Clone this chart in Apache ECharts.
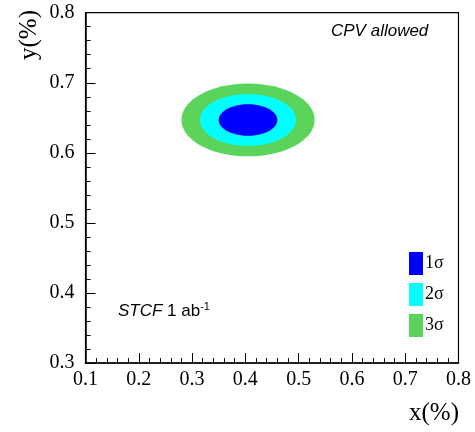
<!DOCTYPE html>
<html>
<head>
    <meta charset="utf-8">
    <title>CPV allowed contours</title>
    <script src="https://cdn.jsdelivr.net/npm/echarts@6/dist/echarts.min.js"></script>
    <style>
        html, body { margin: 0; padding: 0; background: #fff; }
    </style>
</head>
<body>
<div id="main" style="width: 475px;height:432px;"></div>
<script type="text/javascript">
    // contour levels, drawn from the widest to the narrowest
    var sigmaNames = ['3σ', '2σ', '1σ'];
    var sigmaColors = ['#5bd45b', '#00ffff', '#0000ff'];
    var centerX = [0.405, 0.405, 0.405];
    var centerY = [0.647, 0.647, 0.647];
    var halfWidthX = [0.125, 0.090, 0.055];
    var halfWidthY = [0.052, 0.037, 0.0225];
    var xTicks = [0.1, 0.2, 0.3, 0.4, 0.5, 0.6, 0.7, 0.8];
    var yTicks = [0.3, 0.4, 0.5, 0.6, 0.7, 0.8];

    var serif = '"Liberation Serif", "DejaVu Serif", serif';
    var sans = '"Liberation Sans", Arial, sans-serif';

    var myChart = echarts.init(document.getElementById('main'));

    var series = [];
    sigmaNames.forEach(function (name, i) {
        series.push({
            name: name,
            type: 'custom',
            itemStyle: { color: sigmaColors[i] },
            data: [[centerX[i], centerY[i], halfWidthX[i], halfWidthY[i]]],
            renderItem: function (params, api) {
                var c = api.coord([api.value(0), api.value(1)]);
                var s = api.size([api.value(2), api.value(3)]);
                return {
                    type: 'ellipse',
                    shape: { cx: c[0], cy: c[1], rx: s[0], ry: s[1] },
                    style: { fill: api.visual('color') }
                };
            },
            silent: true
        });
    });

    var option = {
        animation: false,
        grid: {
            left: 85.5, right: 16.5, top: 12.7, bottom: 69,
            show: true, borderColor: '#000', borderWidth: 1.2
        },
        xAxis: {
            type: 'value',
            min: xTicks[0], max: xTicks[xTicks.length - 1], interval: 0.1,
            axisLine: { lineStyle: { color: '#000', width: 1.5 } },
            axisTick: { inside: true, length: 10, lineStyle: { color: '#000' } },
            minorTick: { show: true, splitNumber: 5, length: 5, lineStyle: { color: '#000' } },
            splitLine: { show: false },
            axisLabel: {
                margin: 7, color: '#000', fontFamily: serif, fontSize: 20,
                formatter: function (v) { return v.toFixed(1); }
            }
        },
        yAxis: {
            type: 'value',
            min: yTicks[0], max: yTicks[yTicks.length - 1], interval: 0.1,
            axisLine: { show: true, lineStyle: { color: '#000', width: 1.5 } },
            axisTick: { show: true, inside: true, length: 10, lineStyle: { color: '#000' } },
            minorTick: { show: true, splitNumber: 5, length: 5, lineStyle: { color: '#000' } },
            splitLine: { show: false },
            axisLabel: {
                margin: 11, color: '#000', fontFamily: serif, fontSize: 20,
                formatter: function (v) { return v.toFixed(1); }
            }
        },
        legend: {
            orient: 'vertical',
            left: 409, top: 252, padding: 0,
            itemWidth: 14, itemHeight: 23, itemGap: 8,
            icon: 'rect',
            data: ['1σ', '2σ', '3σ'],
            textStyle: { color: '#000', fontFamily: serif, fontSize: 18, padding: [0, 0, 0, -3] }
        },
        graphic: [
            {
                type: 'text', left: 331, top: 23,
                style: { text: 'CPV allowed', font: 'italic 17px ' + sans, fill: '#000' }
            },
            {
                type: 'text', left: 118, top: 301,
                style: {
                    text: '{i|STCF} 1 ab{s|-1}',
                    fill: '#000',
                    font: '17px ' + sans,
                    rich: {
                        i: { fontStyle: 'italic', fontFamily: sans, fontSize: 17 },
                        s: { fontFamily: sans, fontSize: 11, verticalAlign: 'top', padding: [0, 0, 9, 0] }
                    }
                }
            },
            {
                type: 'text', right: 16, top: 401,
                style: { text: 'x(%)', font: '25px ' + serif, fill: '#000' }
            },
            {
                type: 'text', left: 17, top: 10, rotation: Math.PI / 2,
                style: { text: 'y(%)', font: '25px ' + serif, fill: '#000' }
            }
        ],
        series: series
    };

    myChart.setOption(option);
</script>
</body>
</html>
